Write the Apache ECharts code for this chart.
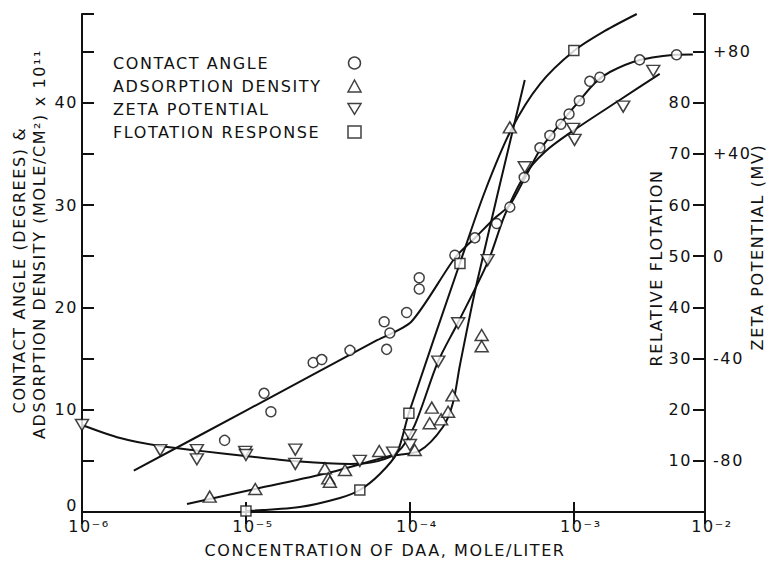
<!DOCTYPE html>
<html><head><meta charset="utf-8">
<script src="https://cdn.jsdelivr.net/npm/echarts@6/dist/echarts.min.js"></script>
<style>html,body{margin:0;padding:0;background:#fff}#c{width:767px;height:562px}#c text{letter-spacing:1.6px}</style>
</head><body><div id="c"></div>
<script>
const FONT = 'DejaVu Sans';
const INK = '#111';

// ---- tick labels ----
const xTickLabels = {'-6': '10⁻⁶', '-5': '10⁻⁵', '-4': '10⁻⁴', '-3': '10⁻³', '-2': '10⁻²'};
const leftTickLabels = ['0', '10', '20', '30', '40'];
const flotationTickLabels = ['10', '20', '30', '40', '50', '60', '70', '80'];
const zetaTickLabels = ['-80', '-40', '0', '+40', '+80'];
const legendNames = ['CONTACT ANGLE', 'ADSORPTION DENSITY', 'ZETA POTENTIAL', 'FLOTATION RESPONSE'];

// ---- measured points: [concentration (mole/liter), value] ----
// contact angle (degrees)
const contactAnglePts = [[7.41e-6,7.0],[1.29e-5,11.6],[1.42e-5,9.8],[2.57e-5,14.6],[2.90e-5,14.9],[4.31e-5,15.8],[6.97e-5,18.6],[7.55e-5,17.5],[7.21e-5,15.9],[9.55e-5,19.5],[1.14e-4,22.9],[1.14e-4,21.8],[1.88e-4,25.1],[2.49e-4,26.8],[3.38e-4,28.2],[4.07e-4,29.8],[4.98e-4,32.7],[6.21e-4,35.6],[7.14e-4,36.8],[8.34e-4,37.9],[9.35e-4,38.9],[1.08e-3,40.2],[1.25e-3,42.1],[1.44e-3,42.5],[2.52e-3,44.2],[4.23e-3,44.7]];
// adsorption density (mole/cm2 x 1e11)
const adsorptionPts = [[6.01e-6,1.5],[1.14e-5,2.25],[3.03e-5,4.27],[3.18e-5,3.29],[3.25e-5,2.96],[4.02e-5,4.1],[6.50e-5,5.96],[1.07e-4,6.06],[1.36e-4,10.2],[1.32e-4,8.67],[1.55e-4,9.06],[1.71e-4,9.8],[1.82e-4,11.4],[2.74e-4,17.3],[2.74e-4,16.2],[4.07e-4,37.6]];
// zeta potential (mV)
const zetaPts = [[1.0e-6,-66],[3.0e-6,-75.8],[5.02e-6,-75.8],[5.02e-6,-79.4],[9.9e-6,-76.5],[1.0e-5,-77.7],[2.0e-5,-75.6],[2.0e-5,-81.2],[4.95e-5,-80],[7.9e-5,-76.8],[1.0e-4,-70],[1.0e-4,-73.8],[1.49e-4,-41.2],[1.97e-4,-26.2],[2.98e-4,-1.5],[5.02e-4,34.8],[9.9e-4,49.8],[1.01e-3,45.5],[2.0e-3,58.5],[3.05e-3,72.5]];
// relative flotation (%)
const flotationPts = [[1.0e-5,0.2],[4.95e-5,4.3],[9.86e-5,19.3],[2.02e-4,48.6],[1.0e-3,90.2]];

// ---- drawn curves ----
const contactFit = [[2.07e-6,4.04],[1.0e-5,9.91],[6.31e-5,16.79],[1.02e-4,18.6],[1.88e-4,24.83],[2.49e-4,26.78],[3.30e-4,28.74],[4.07e-4,30.01],[4.95e-4,32.45],[6.21e-4,35.39],[8.22e-4,37.93],[1.089e-3,40.27],[1.343e-3,41.94],[1.66e-3,43.01],[2.52e-3,44.18],[4.19e-3,44.70],[5.32e-3,44.72]];
const adsorptionFit = [[4.37e-6,0.78],[1.135e-5,2.25],[3.25e-5,3.86],[7.55e-5,5.47],[1.15e-4,6.01],[1.59e-4,8.31],[1.83e-4,10.66],[2.02e-4,14.37],[2.56e-4,22.39],[5.02e-4,42.23]];
const zetaFit = [[1.0e-6,-66.0],[1.71e-6,-71.1],[2.99e-6,-74.2],[5.25e-6,-76.1],[1.057e-5,-78.3],[2.13e-5,-80.3],[4.31e-5,-81.2],[6.38e-5,-80.1],[8.45e-5,-76.5],[1.07e-4,-66.0],[1.48e-4,-41.4],[1.96e-4,-26.1],[2.99e-4,-2.2],[3.79e-4,16.1],[5.02e-4,31.8],[6.65e-4,40.8],[9.86e-4,49.0],[1.905e-3,61.1],[3.34e-3,71.3]];
const flotationFit = [[9.95e-6,0.2],[2.13e-5,0.98],[3.74e-5,2.74],[4.95e-5,4.30],[6.56e-5,7.43],[8.34e-5,11.53],[9.86e-5,19.35],[2.02e-4,48.68],[2.86e-4,62.56],[4.17e-4,74.88],[6.21e-4,83.67],[1.0e-3,90.13],[1.545e-3,94.04],[2.42e-3,97.36]];

const X_MIN = 1e-6, X_MAX = 6.31e-3;
const L_MAX = 48.68, F_MAX = 97.36, Z_MIN = -100, Z_MAX = 94.72;
const DOWN_TRIANGLE = 'path://M0,0L12,0L6,10Z';

const chart = echarts.init(document.getElementById('c'), null, {renderer: 'svg'});
const txt = {fontFamily: FONT, color: INK, fontSize: 16};
const axLine = {show: true, lineStyle: {color: INK, width: 2}};
const marker = {color: '#fff', borderColor: INK, borderWidth: 1.5};

function xLabel(v) {
  const e = String(Math.round(Math.log10(v)));
  return xTickLabels[e] || '';
}
function leftLabel(v) {
  const s = String(v);
  if (leftTickLabels.indexOf(s) < 0) return '';
  return v === 0 ? '{z|' + s + '}' : s;
}
function lineSeries(data, yIdx, smooth) {
  return {type: 'line', data: data, yAxisIndex: yIdx, showSymbol: false, smooth: smooth,
    silent: true, z: 2, lineStyle: {color: INK, width: 2}};
}
function ptSeries(name, data, yIdx, symbol, size) {
  return {type: 'scatter', name: name, data: data, yAxisIndex: yIdx, symbol: symbol,
    symbolSize: size, symbolKeepAspect: false, z: 5, itemStyle: marker};
}

chart.setOption({
  animation: false,
  backgroundColor: '#fff',
  grid: {left: 82, right: 62, top: 14, bottom: 50, containLabel: false, outerBoundsMode: 'none'},
  legend: {
    show: true, orient: 'vertical', left: 113, top: 55, padding: 0, align: 'right',
    itemWidth: 13, itemHeight: 12, itemGap: 7, selectedMode: false,
    data: legendNames,
    itemStyle: {color: '#fff', borderColor: INK, borderWidth: 1.5},
    formatter: '{t|{name}}',
    textStyle: {fontFamily: FONT, color: INK, fontSize: 16,
      rich: {t: {width: 230, align: 'left', fontFamily: FONT, fontSize: 16, color: INK, lineHeight: 16}}}
  },
  xAxis: [{
    type: 'log', logBase: 10, min: X_MIN, max: X_MAX, position: 'bottom',
    name: 'CONCENTRATION OF DAA, MOLE/LITER', nameLocation: 'middle', nameGap: 30,
    nameTextStyle: Object.assign({}, txt, {padding: [0, 17, 0, 0]}),
    axisLine: axLine, splitLine: {show: false}, minorTick: {show: false},
    axisTick: {show: true, inside: true, length: 10, lineStyle: {color: INK, width: 2}},
    axisLabel: {show: true, showMinLabel: true, showMaxLabel: true, margin: 6, formatter: xLabel,
      fontFamily: FONT, color: INK, fontSize: 16, padding: [0, 0, 0, 14]}
  }, {
    type: 'log', logBase: 10, min: X_MIN, max: X_MAX, position: 'top',
    axisLine: axLine, splitLine: {show: false}, axisLabel: {show: false},
    axisTick: {show: true, inside: true, length: 12, lineStyle: {color: INK, width: 2}}
  }],
  yAxis: [{
    type: 'value', min: 0, max: L_MAX, interval: 5, position: 'left',
    axisLine: axLine, splitLine: {show: false},
    axisTick: {show: true, inside: true, length: 12, lineStyle: {color: INK, width: 2}},
    axisLabel: {show: true, margin: 4, fontFamily: FONT, color: INK, fontSize: 16,
      formatter: leftLabel, rich: {z: {fontFamily: FONT, fontSize: 16, color: INK, padding: [0, 0, 13, 0]}}}
  }, {
    type: 'value', min: 0, max: F_MAX, interval: 10, position: 'right',
    axisLine: axLine, splitLine: {show: false},
    axisTick: {show: true, inside: true, length: 12, lineStyle: {color: INK, width: 2}},
    axisLabel: {show: true, inside: true, margin: 13, fontFamily: FONT, color: INK, fontSize: 16,
      formatter: v => flotationTickLabels.indexOf(String(v)) >= 0 ? String(v) : ''}
  }, {
    type: 'value', min: Z_MIN, max: Z_MAX, interval: 20, position: 'right',
    axisLine: {show: false}, splitLine: {show: false}, axisTick: {show: false},
    axisLabel: {show: true, margin: 8, fontFamily: FONT, color: INK, fontSize: 16,
      formatter: v => { const s = v > 0 ? '+' + v : String(v); return zetaTickLabels.indexOf(s) >= 0 ? s : ''; }}
  }],
  graphic: [
    {type: 'text', x: 19, y: 270, rotation: Math.PI / 2, silent: true,
      style: {text: 'CONTACT ANGLE (DEGREES) &', fontFamily: FONT, fontSize: 16, fill: INK, align: 'center', verticalAlign: 'middle'}},
    {type: 'text', x: 39, y: 244, rotation: Math.PI / 2, silent: true,
      style: {text: 'ADSORPTION DENSITY (MOLE/CM²) x 10¹¹', fontFamily: FONT, fontSize: 16, fill: INK, align: 'center', verticalAlign: 'middle'}},
    {type: 'text', x: 656, y: 268, rotation: Math.PI / 2, silent: true,
      style: {text: 'RELATIVE FLOTATION', fontFamily: FONT, fontSize: 16, fill: INK, align: 'center', verticalAlign: 'middle'}},
    {type: 'text', x: 757, y: 247, rotation: Math.PI / 2, silent: true,
      style: {text: 'ZETA POTENTIAL (MV)', fontFamily: FONT, fontSize: 16, fill: INK, align: 'center', verticalAlign: 'middle'}}
  ],
  series: [
    lineSeries(contactFit, 0, 0.25),
    lineSeries(adsorptionFit, 0, 0.3),
    lineSeries(zetaFit, 2, 0.3),
    lineSeries(flotationFit, 1, 0.3),
    ptSeries(legendNames[0], contactAnglePts, 0, 'circle', 10),
    ptSeries(legendNames[1], adsorptionPts, 0, 'triangle', [13, 11]),
    ptSeries(legendNames[2], zetaPts, 2, DOWN_TRIANGLE, [13, 11]),
    ptSeries(legendNames[3], flotationPts, 1, 'rect', 10)
  ]
});
</script>
</body></html>
